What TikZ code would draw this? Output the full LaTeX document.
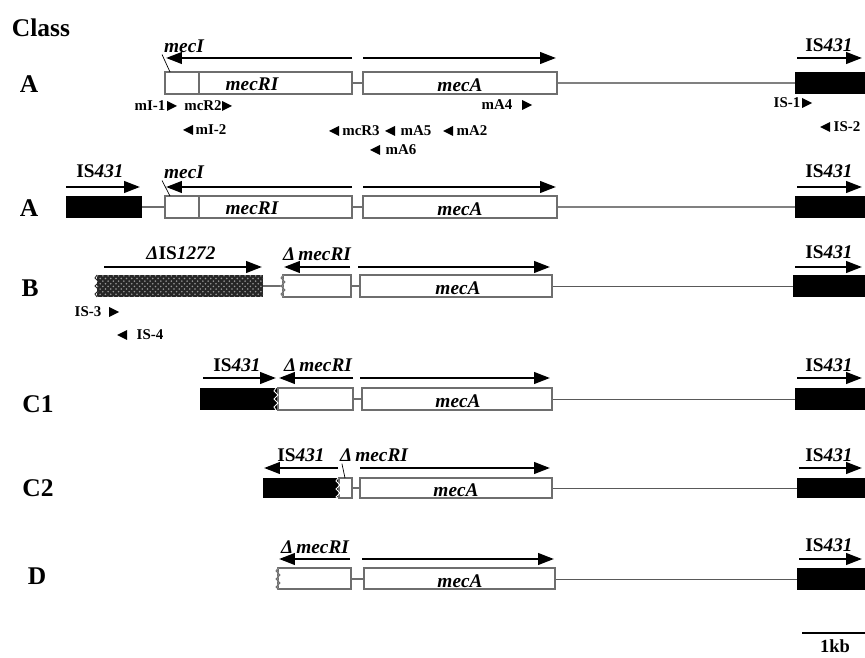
\documentclass[tikz,border=0pt]{standalone}
\usepackage{fontspec}
\setmainfont{Liberation Serif}
\usetikzlibrary{arrows.meta,patterns,positioning}
\definecolor{boxgray}{RGB}{110,110,110}

\tikzset{
  gene/.style={draw=boxgray, line width=0.6pt, fill=white},
  isbox/.style={fill=black},
  dirarrow/.style={line width=1.4pt, -{Triangle[length=9pt,width=6.5pt]}},
  link/.style={draw=boxgray, line width=0.6pt},
  spacer/.style={draw=gray, line width=0.9pt},
  thinspacer/.style={draw=black!65, line width=0.5pt},
  classlab/.style={font=\fontsize{14.5}{16}\selectfont\bfseries, inner sep=0pt},
  genelab/.style={font=\fontsize{11}{12}\selectfont\bfseries\itshape, inner sep=1pt},
  primer/.style={font=\fontsize{8.5}{9}\selectfont\bfseries, inner sep=0.5pt},
}
\newcommand{\primfwd}[2]{\fill (#1,#2) ++(-5,-5) -- ++(10,5) -- ++(-10,5) -- cycle;}
\newcommand{\primrev}[2]{\fill (#1,#2) ++(5,-5) -- ++(-10,5) -- ++(10,5) -- cycle;}
\newcommand{\jagged}[4][boxgray]{\draw[#1, line width=0.5pt] (#2,#3) -- ++(-2,3) -- ++(4,4) -- ++(-4,4) -- ++(4,4) -- ++(-4,4) -- (#2,#4);}
\newcommand{\ISname}{\textup{IS}\textit{431}}

\begin{document}
\begin{tikzpicture}[x=0.02cm, y=-0.02cm]
        \useasboundingbox (0,0) rectangle (865,658);

        \node[classlab] (cls) at (41,28) {Class};
        \node[classlab] (rA1) at (29,84) {A};
        \node[classlab] (rA2) at (29,208) {A};
        \node[classlab] (rB) at (30,288) {B};
        \node[classlab] (rC1) at (38,404) {C1};
        \node[classlab] (rC2) at (38,488) {C2};
        \node[classlab] (rD) at (37,576) {D};

        % class A, no IS431 upstream
        \draw[link] (352,83) -- (363,83);
        \draw[spacer] (557,83) -- (795,83);
        \draw[gene] (165,72) rectangle (352,94);
        \draw[boxgray, line width=0.6pt] (199,72) -- (199,94);
        \draw[gene] (363,72) rectangle (557,94);
        \fill[isbox] (795,72) rectangle (865,94);
        \draw[dirarrow] (352,58) -- (166,58);
        \draw[dirarrow] (363,58) -- (556,58);
        \draw[dirarrow] (797,58) -- (862,58);
        \node[genelab] (mecRa) at (252,84) {mecRI};
        \node[genelab] (mecAa) at (460,85) {mecA};
        \node[genelab] (mecIa) at (184,46) {mecI};
        \coordinate (mecIpa) at (170,72);
        \draw[line width=0.4pt] (mecIa.south west) -- (mecIpa);
        \node[genelab, font=\fontsize{11}{12}\selectfont\bfseries] (isRa) at (829,45) {\ISname};

        % primers
        \node[primer] (mI1) at (150,106) {mI-1}; \primfwd{172}{106}
        \node[primer] (mcR2) at (203,106) {mcR2}; \primfwd{227}{106}
        \primrev{188}{130} \node[primer] (mI2) at (211,130) {mI-2};
        \node[primer] (mA4) at (497,105) {mA4}; \primfwd{527}{105}
        \primrev{334}{131} \node[primer] (mcR3) at (361,131) {mcR3};
        \primrev{390}{131} \node[primer] (mA5) at (416,131) {mA5};
        \primrev{448}{131} \node[primer] (mA2) at (472,131) {mA2};
        \primrev{375}{150} \node[primer] (mA6) at (401,150) {mA6};
        \node[primer] (IS1) at (787,103) {IS-1}; \primfwd{807}{103}
        \primrev{825}{127} \node[primer] (IS2) at (847,127) {IS-2};

        % class A, IS431 upstream
        \draw[link] (142,207) -- (165,207);
        \draw[link] (352,207) -- (363,207);
        \draw[spacer] (557,207) -- (795,207);
        \fill[isbox] (66,196) rectangle (142,218);
        \draw[gene] (165,196) rectangle (352,218);
        \draw[boxgray, line width=0.6pt] (199,196) -- (199,218);
        \draw[gene] (363,196) rectangle (557,218);
        \fill[isbox] (795,196) rectangle (865,218);
        \draw[dirarrow] (66,187) -- (140,187);
        \draw[dirarrow] (352,187) -- (166,187);
        \draw[dirarrow] (363,187) -- (556,187);
        \draw[dirarrow] (797,187) -- (862,187);
        \node[genelab] (mecRb) at (252,208) {mecRI};
        \node[genelab] (mecAb) at (460,209) {mecA};
        \node[genelab] (mecIb) at (184,172) {mecI};
        \coordinate (mecIpb) at (170,196);
        \draw[line width=0.4pt] (mecIb.south west) -- (mecIpb);
        \node[genelab, font=\fontsize{11}{12}\selectfont\bfseries] (isLb) at (100,171) {\ISname};
        \node[genelab, font=\fontsize{11}{12}\selectfont\bfseries] (isRb) at (829,171) {\ISname};

        % class B
        \draw[link] (263,286) -- (283,286);
        \draw[link] (351,286) -- (360,286);
        \draw[thinspacer] (552,286) -- (793,286);
        \fill[black!85] (97,275) rectangle (263,297);
        \fill[pattern=crosshatch dots, pattern color=black!40] (97,275) rectangle (263,297);
        \jagged[black!85]{97}{275}{297}
        \draw[gene] (283,275) rectangle (351,297);
        \jagged[white]{283}{275}{297}
        \jagged{283}{275}{297}
        \draw[gene] (360,275) rectangle (552,297);
        \fill[isbox] (793,275) rectangle (865,297);
        \draw[dirarrow] (104,267) -- (262,267);
        \draw[dirarrow] (350,267) -- (284,267);
        \draw[dirarrow] (358,267) -- (550,267);
        \draw[dirarrow] (795,267) -- (862,267);
        \node[genelab, font=\fontsize{11}{12}\selectfont\bfseries] (is1272) at (181,253) {\textit{Δ}\textup{IS}\textit{1272}};
        \node[genelab] (dmecRc) at (317,254) {Δ\,mecRI};
        \node[genelab] (mecAc) at (458,288) {mecA};
        \node[genelab, font=\fontsize{11}{12}\selectfont\bfseries] (isRc) at (829,252) {\ISname};
        \node[primer] (IS3) at (88,312) {IS-3}; \primfwd{114}{312}
        \primrev{122}{335} \node[primer] (IS4) at (150,335) {IS-4};

        % class C1
        \draw[link] (353,399) -- (362,399);
        \draw[thinspacer] (552,399) -- (795,399);
        \fill[isbox] (200,388) rectangle (278,410);
        \draw[gene] (278,388) rectangle (353,410);
        \jagged[white]{276}{388}{410}
        \draw[gene] (362,388) rectangle (552,410);
        \fill[isbox] (795,388) rectangle (865,410);
        \draw[dirarrow] (203,378) -- (276,378);
        \draw[dirarrow] (353,378) -- (279,378);
        \draw[dirarrow] (360,378) -- (550,378);
        \draw[dirarrow] (797,378) -- (862,378);
        \node[genelab, font=\fontsize{11}{12}\selectfont\bfseries] (isLd) at (237,365) {\ISname};
        \node[genelab] (dmecRd) at (318,365) {Δ\,mecRI};
        \node[genelab] (mecAd) at (458,401) {mecA};
        \node[genelab, font=\fontsize{11}{12}\selectfont\bfseries] (isRd) at (829,365) {\ISname};

        % class C2
        \draw[link] (352,488) -- (360,488);
        \draw[thinspacer] (552,488) -- (797,488);
        \fill[isbox] (263,478) rectangle (339,498);
        \draw[gene] (339,478) rectangle (352,498);
        \jagged[white]{338}{478}{498}
        \draw[gene] (360,478) rectangle (552,498);
        \fill[isbox] (797,478) rectangle (865,498);
        \draw[dirarrow] (338,468) -- (264,468);
        \draw[dirarrow] (360,468) -- (550,468);
        \draw[dirarrow] (799,468) -- (862,468);
        \node[genelab, font=\fontsize{11}{12}\selectfont\bfseries] (isLe) at (301,455) {\ISname};
        \node[genelab] (dmecRe) at (374,455) {Δ\,mecRI};
        \coordinate (dpe) at (345,478);
        \draw[line width=0.4pt] (dmecRe.south west) ++(4,0) -- (dpe);
        \node[genelab] (mecAe) at (456,490) {mecA};
        \node[genelab, font=\fontsize{11}{12}\selectfont\bfseries] (isRe) at (829,455) {\ISname};

        % class D
        \draw[link] (351,579) -- (364,579);
        \draw[thinspacer] (555,579) -- (797,579);
        \draw[gene] (278,568) rectangle (351,589);
        \jagged[white]{278}{568}{589}
        \jagged{278}{568}{589}
        \draw[gene] (364,568) rectangle (555,589);
        \fill[isbox] (797,568) rectangle (865,590);
        \draw[dirarrow] (350,559) -- (279,559);
        \draw[dirarrow] (362,559) -- (554,559);
        \draw[dirarrow] (799,559) -- (862,559);
        \node[genelab] (dmecRf) at (315,547) {Δ\,mecRI};
        \node[genelab] (mecAf) at (460,581) {mecA};
        \node[genelab, font=\fontsize{11}{12}\selectfont\bfseries] (isRf) at (829,545) {\ISname};

        % scale
        \draw[line width=1.2pt] (802,633) -- (865,633);
        \node[genelab, font=\fontsize{10.5}{11}\selectfont\bfseries, inner sep=0pt] (kb) at (835,646) {1kb};
\end{tikzpicture}
\end{document}
